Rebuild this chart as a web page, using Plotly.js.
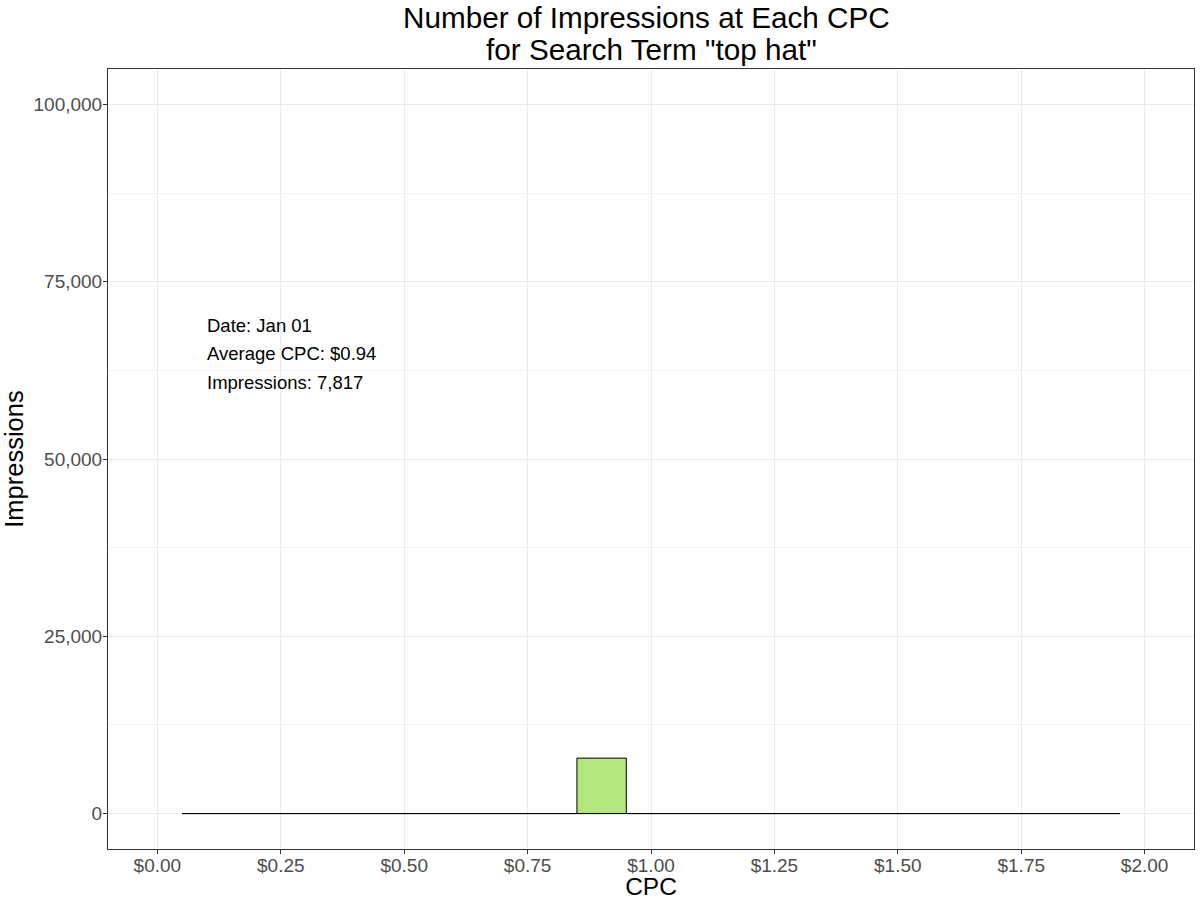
<!DOCTYPE html>
<html>
<head>
<meta charset="utf-8">
<script src="https://cdn.plot.ly/plotly-3.0.1.min.js"></script>
<style>html,body{margin:0;padding:0;background:#fff;}#chart{width:1200px;height:900px;}</style>
</head>
<body>
<div id="chart"></div>
<script>
// Histogram bins (CPC bin centers, width 0.10) and impressions per bin
const binCenters = [0.1,0.2,0.3,0.4,0.5,0.6,0.7,0.8,0.9,1.0,1.1,1.2,1.3,1.4,1.5,1.6,1.7,1.8,1.9];
const impressions = [0,0,0,0,0,0,0,0,7817,0,0,0,0,0,0,0,0,0,0];
const binWidth = 0.1;
const xTickVals = [0,0.25,0.5,0.75,1,1.25,1.5,1.75,2];
const xTickText = ["$0.00","$0.25","$0.50","$0.75","$1.00","$1.25","$1.50","$1.75","$2.00"];
const yTickVals = [0,25000,50000,75000,100000];
const yTickText = ["0","25,000","50,000","75,000","100,000"];
const titleLines = ['Number of Impressions at Each CPC', 'for Search Term "top hat"'];
const infoLines = ["Date: Jan 01","Average CPC: $0.94","Impressions: 7,817"];

const FONT = "Liberation Sans, Arial, sans-serif";
const lineStart = binCenters[0] - binWidth/2;
const lineEnd = binCenters[binCenters.length-1] + binWidth/2;

const traces = [
  {
    type: 'bar',
    x: binCenters,
    y: impressions,
    width: binWidth,
    marker: {color: 'rgb(180,230,128)', line: {color: '#000', width: 1}},
    hoverinfo: 'x+y',
    showlegend: false
  },
  {
    type: 'scatter',
    mode: 'lines',
    x: [lineStart, lineEnd],
    y: [0, 0],
    line: {color: '#000', width: 1},
    hoverinfo: 'skip',
    showlegend: false
  }
];

const annY = [68830, 64810, 60790];
const annotations = infoLines.map((t, i) => ({
  x: 0.1, y: annY[i], xref: 'x', yref: 'y', xshift: -2,
  text: t, showarrow: false, xanchor: 'left', yanchor: 'middle',
  font: {family: FONT, size: 18.5, color: '#000'}
}));
const titleX = [0.4959, 0.5];
const titleY = [1.0654, 1.0256];
titleLines.forEach((t, i) => annotations.push({
  x: titleX[i], y: titleY[i], xref: 'paper', yref: 'paper',
  text: t, showarrow: false, xanchor: 'center', yanchor: 'middle',
  font: {family: FONT, size: 29.7, color: '#000'}
}));

const layout = {
  width: 1200, height: 900,
  paper_bgcolor: '#fff', plot_bgcolor: '#fff',
  margin: {l: 108, r: 6, t: 69, b: 51},
  xaxis: {
    range: [-0.1, 2.1],
    tickvals: xTickVals, ticktext: xTickText,
    ticks: 'outside', ticklen: 4, tickcolor: '#333', tickwidth: 1,
    ticklabelstandoff: -5,
    tickfont: {family: FONT, size: 19, color: '#4D4D4D'},
    showgrid: true, gridcolor: '#EBEBEB', gridwidth: 1,
    zeroline: false,
    showline: true, mirror: true, linecolor: '#333', linewidth: 1,
    title: {text: 'CPC', font: {family: FONT, size: 24.5, color: '#000'}, standoff: 3}
  },
  yaxis: {
    range: [-5000, 105000],
    tickvals: yTickVals, ticktext: yTickText,
    ticks: 'outside', ticklen: 4, tickcolor: '#333', tickwidth: 1,
    ticklabelstandoff: -3,
    tickfont: {family: FONT, size: 19, color: '#4D4D4D'},
    showgrid: true, gridcolor: '#EBEBEB', gridwidth: 1,
    minor: {tickvals: [12500,37500,62500,87500], showgrid: true, gridcolor: '#F2F2F2', gridwidth: 1, ticks: ''},
    zeroline: false,
    showline: true, mirror: true, linecolor: '#333', linewidth: 1,
    title: {text: 'Impressions', font: {family: FONT, size: 25.5, color: '#000'}, standoff: 2}
  },
  annotations: annotations,
  bargap: 0
};

Plotly.newPlot('chart', traces, layout, {displayModeBar: false, staticPlot: true});
</script>
</body>
</html>
